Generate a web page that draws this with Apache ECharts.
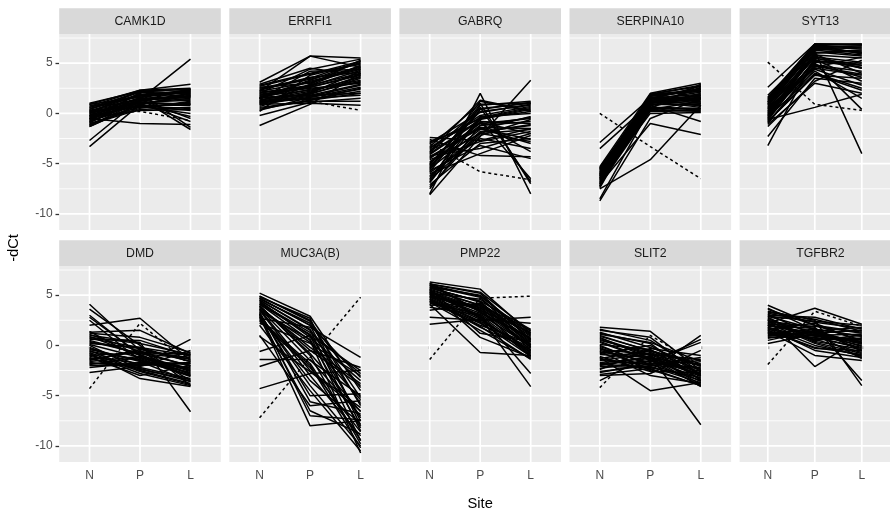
<!DOCTYPE html>
<html>
<head>
<meta charset="utf-8">
<script src="https://cdn.jsdelivr.net/npm/echarts@6/dist/echarts.min.js"></script>
<style>
html,body{margin:0;padding:0;background:#fff;}
#chart{width:890px;height:517px;}
</style>
</head>
<body>
<div id="chart"></div>
<script>
const genes = ['CAMK1D','ERRFI1','GABRQ','SERPINA10','SYT13','DMD','MUC3A(B)','PMP22','SLIT2','TGFBR2'];
const sites = ['N','P','L'];
const yTicks = [-10,-5,0,5];
const yMinor = [-7.5,-2.5,2.5,7.5];

const CAMK1D_N = [-2.7,-3.3,-0.5,0.9,1.0,0.6,0.3,0.1,-0.1,-0.3,-0.5,-0.7,-0.9,-1.1,-1.3,0.4,0.0,-0.2,-0.6,-0.8,0.2,-1.0,0.7,-0.4,-1.2,0.5,0.8,-0.9,0.1,-0.3,-0.6,0.3,0.2,-0.8,0.6,-1.1,0.9,-0.2,-0.5,0.4,-1.3,0.0];
const CAMK1D_P = [1.4,0.9,-1.0,2.3,2.2,1.8,1.5,1.2,1.0,0.8,2.0,0.6,1.3,0.4,0.9,1.9,1.1,0.7,1.6,2.1,1.4,0.5,2.3,0.3,1.2,1.7,1.0,1.5,2.2,0.8,1.3,0.6,1.8,1.1,2.1,0.7,1.6,1.3,0.9,2.2,1.0,1.5];
const CAMK1D_L = [5.4,1.8,-1.1,2.9,2.4,2.2,-1.6,2.0,1.5,0.3,-1.4,1.0,2.3,0.6,1.8,2.1,0.9,0.0,2.4,1.6,-0.5,1.2,2.5,0.4,1.9,2.2,-0.8,1.4,2.0,0.8,1.7,1.1,2.3,1.3,1.9,0.5,2.1,1.6,-0.3,2.4,0.9,1.7];

const ERRFI1_N = [-1.2,3.1,2.9,2.5,2.2,2.0,1.8,1.6,1.5,1.3,1.1,0.9,0.7,0.5,0.2,-0.2,1.9,1.4,1.0,2.6,1.7,1.2,0.8,2.3,1.5,0.6,2.8,1.3,0.3,2.1,1.6,1.0,2.4,1.2,0.9,1.8,2.7,0.4,1.5,2.0,1.1,2.2];
const ERRFI1_P = [0.9,5.7,4.5,3.5,5.7,2.8,2.5,1.8,3.2,2.2,1.5,1.0,2.0,1.3,3.8,1.1,2.6,4.2,1.7,3.0,2.3,1.4,2.9,3.6,1.9,1.2,4.0,2.4,1.6,2.7,3.3,2.1,3.4,2.0,1.6,2.6,3.9,1.3,2.8,4.4,1.8,3.1];
const ERRFI1_L = [4.0,5.5,3.8,5.2,4.6,4.8,3.0,2.0,4.5,3.6,1.8,0.8,4.2,2.5,5.0,1.5,3.9,4.4,2.8,4.7,3.3,2.2,5.3,4.1,3.5,1.2,4.9,3.1,2.6,4.3,5.1,3.7,4.6,3.2,2.4,3.8,5.2,2.0,4.0,5.4,2.9,4.4];

const GABRQ_N = [-8.0,-8.1,-2.4,-2.6,-3.0,-3.3,-3.6,-3.9,-4.2,-4.5,-4.8,-5.0,-5.3,-5.6,-5.9,-6.2,-6.5,-6.8,-7.1,-7.5,-4.0,-4.6,-5.1,-5.5,-6.0,-3.5,-4.4,-5.8,-6.6,-2.8,-3.8,-5.2,-3.4,-4.9,-6.3,-5.4,-4.1,-7.3,-2.9,-5.7,-6.9,-4.3];
const GABRQ_P = [2.0,-2.3,-2.7,-4.2,-0.5,1.0,-1.5,0.5,-3.5,-1.0,-2.0,0.2,-0.8,1.2,-2.5,-1.8,-0.3,0.8,-3.0,-1.2,-0.6,-2.8,0.6,-1.6,-4.0,-0.2,-1.4,0.4,-2.2,-1.0,1.3,-0.9,-0.4,-1.2,-2.0,0.9,-0.7,-1.9,0.1,-3.2,-0.5,-1.5];
const GABRQ_L = [-8.0,3.3,-1.5,-4.3,0.5,-7.0,-3.0,1.0,-2.0,-0.5,-2.8,0.8,-1.0,0.2,-3.5,-1.2,0.0,1.2,-2.5,-0.8,0.4,-1.8,-6.8,-0.3,-2.2,0.7,-1.5,1.1,-0.6,-3.8,0.3,-2.0,0.6,-0.4,-1.6,1.0,-6.5,-1.1,0.9,-4.5,0.2,-2.6];

const SERPINA10_N = [-8.7,-8.5,-2.9,-3.5,-7.5,-7.0,-5.3,-5.5,-5.7,-5.9,-6.1,-6.3,-6.5,-6.7,-6.9,-7.1,-7.3,-5.4,-5.8,-6.2,-6.6,-7.2,-6.0,-6.4,-5.6,-6.8,-7.4,-5.5,-6.2,-7.0,-6.0,-6.5,-5.6,-6.0,-6.4,-6.8,-7.2,-5.8,-6.6,-7.0,-6.2,-5.4];
const SERPINA10_P = [-0.5,0.5,1.5,1.0,-4.6,-1.0,2.0,1.8,1.6,1.4,1.2,1.0,0.8,0.6,0.4,0.2,1.9,1.3,0.9,1.7,0.0,1.5,1.1,0.7,1.8,0.3,1.4,1.0,1.6,0.5,1.2,1.9,1.7,0.9,1.3,0.4,1.9,1.5,0.6,1.1,1.8,1.2];
const SERPINA10_L = [1.5,0.5,2.5,1.8,0.8,-2.1,3.0,2.2,1.0,2.7,0.6,1.5,-0.8,2.0,1.2,0.3,2.8,1.7,0.9,2.4,0.1,1.9,1.3,2.6,1.1,0.4,2.1,1.6,0.7,2.9,1.4,2.3,2.2,0.8,1.8,0.2,2.7,1.4,0.5,1.0,2.4,1.6];

const SYT13_N = [-3.2,-2.3,2.6,-0.6,1.5,1.2,1.0,0.8,0.6,0.4,0.2,0.0,-0.2,-0.4,-0.6,-0.8,-1.0,-1.3,1.4,0.9,0.5,0.1,-0.3,-0.7,1.1,0.3,-0.5,-1.1,0.7,-0.1,1.3,-0.9,0.9,0.2,-0.4,1.6,-0.8,0.5,1.1,-0.2,0.0,1.8];
const SYT13_P = [5.5,3.5,6.9,0.6,6.8,6.5,6.2,5.8,5.5,5.0,4.5,6.0,5.2,4.0,6.6,3.8,4.8,3.2,6.9,6.3,5.7,4.2,6.0,5.4,6.7,4.6,5.9,3.0,6.4,5.1,6.8,4.4,6.6,5.6,4.9,6.9,3.9,6.1,6.8,5.3,4.7,6.4];
const SYT13_L = [4.5,3.0,6.8,1.9,6.5,6.0,-4.0,5.5,4.8,0.4,3.8,6.2,5.0,2.5,6.7,3.5,4.2,5.3,6.9,5.8,4.5,1.5,6.3,3.2,6.0,5.6,4.0,2.0,6.6,4.8,5.9,2.8,6.4,5.1,3.6,6.8,2.3,5.7,6.9,4.6,3.9,6.1];

const DMD_N = [4.1,3.6,3.0,2.5,2.0,1.3,1.0,0.7,0.4,0.1,-0.2,-0.5,-0.8,-1.1,-1.4,-1.7,-2.0,-2.7,1.2,0.9,0.3,-0.3,-0.9,-1.5,-1.9,0.6,-0.6,-1.2,2.8,0.0,-1.0,-1.8,1.1,-0.4,-1.3,0.5,-1.6,0.8,-0.7,1.4,-2.2,0.2];
const DMD_P = [-0.5,0.0,-1.0,-1.5,2.7,1.5,0.3,-0.2,-0.8,-1.2,-2.0,-2.5,-3.3,-1.8,-0.6,-2.2,-2.0,-2.1,0.8,-1.0,-0.3,-1.6,-2.8,-0.4,-1.2,0.5,-1.4,-3.0,-0.9,-2.4,-0.7,-1.9,-0.6,-1.5,-2.3,-0.8,-1.1,0.2,-2.6,-1.3,-1.7,-0.2];
const DMD_L = [-3.5,-4.0,-2.5,-3.0,-1.5,-0.8,-6.6,-1.0,-2.0,-2.8,0.6,-3.8,-4.1,-2.2,-1.2,-3.3,-1.8,-0.5,-0.7,-2.6,-1.6,-3.6,-4.0,-1.4,-2.4,-1.1,-3.1,-2.0,-2.9,-3.4,-0.9,-1.7,-2.1,-2.7,-3.6,-1.3,-2.3,-0.9,-3.9,-3.0,-1.8,-1.6];

const MUC3AB_N = [5.2,4.9,4.7,4.5,4.3,4.1,3.9,3.7,3.5,3.3,3.1,2.9,2.7,2.5,2.2,2.0,1.0,-0.6,-1.4,-2.1,-4.3,4.8,4.4,4.0,3.6,3.2,2.8,4.6,3.8,3.0,4.2,0.9,4.5,3.4,4.9,2.6,3.9,4.1,3.1,4.7,2.4,3.6];
const MUC3AB_P = [2.9,2.5,2.0,1.5,1.0,0.5,-0.5,-1.5,-3.0,-5.6,-7.0,-8.0,1.8,-2.0,0.2,-4.5,-6.0,1.0,-1.4,-0.5,-2.8,2.7,0.8,-1.0,-2.5,-5.0,-6.5,2.2,-0.2,-3.5,1.3,-2.6,1.6,0.6,2.4,-1.8,-0.8,1.1,-4.0,2.0,-2.2,0.3];
const MUC3AB_L = [-4.5,-6.0,-7.5,-8.5,-9.5,-10.7,-2.2,-5.0,-9.0,-6.8,-7.4,-7.5,-1.2,-10.2,-3.0,-10.5,-5.5,-2.5,-7.0,-4.0,-2.5,-8.0,-3.5,-9.8,-6.2,-4.8,-8.8,-5.2,-3.8,-7.8,-2.8,-6.5,-5.8,-8.2,-4.2,-9.4,-6.6,-7.2,-10.0,-3.2,-8.6,-5.4];

const PMP22_N = [6.3,6.1,5.9,5.7,5.5,5.3,5.1,4.9,4.7,4.5,4.3,4.1,3.8,3.5,2.8,2.1,6.0,5.6,5.2,4.8,4.4,5.8,5.4,5.0,4.6,4.0,6.2,5.5,4.9,5.3,5.7,4.2,5.8,5.1,4.6,6.0,5.4,4.4,5.6,4.8,5.2,6.1];
const PMP22_P = [5.6,5.2,4.8,4.4,4.0,3.6,3.2,2.8,2.4,2.0,1.5,-0.7,3.0,4.2,2.5,2.6,3.4,1.2,4.6,3.8,2.2,5.0,2.9,3.5,1.8,4.1,3.3,2.7,3.9,0.8,4.4,3.1,4.3,3.0,2.3,4.9,3.7,1.9,4.0,2.6,3.5,5.3];
const PMP22_L = [1.2,0.5,0.0,-0.5,1.5,-1.0,0.8,-4.1,-0.3,0.2,-1.3,-1.0,-2.8,0.9,2.8,2.2,-0.8,0.4,1.0,-0.2,-0.6,0.6,-1.1,1.3,-0.4,0.1,0.7,-0.9,0.3,-1.2,1.6,-0.1,0.4,-0.7,-1.1,1.1,0.0,-1.4,0.6,-0.5,-0.2,1.4];

const SLIT2_N = [1.8,1.5,1.2,0.9,0.6,0.3,0.0,-0.3,-0.6,-0.9,-1.2,-1.5,-1.8,-2.1,-2.4,-2.7,-3.0,-3.5,1.6,1.0,0.4,-0.2,-0.8,-1.4,-2.0,-2.6,0.7,-0.5,-1.1,0.1,-1.7,1.3,0.5,-0.7,-1.9,1.1,-2.3,-0.1,-1.3,0.8,-2.9,-0.4];
const SLIT2_P = [1.4,0.8,0.2,-0.5,-1.0,-1.5,-2.0,-2.5,-3.0,-1.2,-4.5,-0.8,-1.6,-2.2,-0.3,-1.8,-2.8,-1.0,0.5,-0.6,-1.4,-2.4,0.0,-1.9,-1.1,-2.0,-0.9,-1.7,-2.6,-0.4,-1.3,-0.2,-0.7,-1.1,-2.1,0.3,-1.5,-1.9,-0.5,-1.3,-2.3,-0.9];
const SLIT2_L = [-2.5,-3.0,-3.5,-2.0,-7.9,-4.0,-1.5,1.0,-3.8,-4.1,-3.7,-2.8,0.3,-3.2,-1.0,-2.2,-0.5,-3.9,-2.6,-1.8,-3.3,-4.0,-2.9,-1.2,-3.6,-2.3,-3.0,0.6,-2.7,-3.4,-1.9,-2.1,-2.4,-3.1,-3.7,-1.6,-2.8,-3.5,-2.0,-2.6,-4.0,-1.4];

const TGFBR2_N = [4.0,3.7,3.4,3.1,2.8,2.6,2.4,2.2,2.0,1.8,1.6,1.4,1.2,1.0,0.7,0.2,3.0,2.5,2.1,1.7,1.3,0.9,2.9,2.3,1.9,1.5,1.1,3.3,2.7,0.5,1.6,2.0,2.5,1.8,3.6,1.2,2.2,0.8,2.9,1.5,3.2,2.0];
const TGFBR2_P = [2.0,1.5,2.5,1.0,0.5,-2.1,1.8,3.7,1.2,0.0,2.2,-1.0,1.6,0.8,1.4,1.1,2.8,0.3,1.9,-0.5,0.6,1.3,2.4,0.9,1.7,-0.2,1.0,2.6,0.4,1.5,0.7,1.2,1.3,0.6,2.0,1.1,0.2,0.8,1.6,-0.3,2.3,1.0];
const TGFBR2_L = [0.5,-0.5,-4.0,0.0,1.0,0.8,-3.5,2.1,1.5,-1.0,0.3,-1.5,0.9,-0.3,1.8,0.2,1.6,-0.8,1.2,-1.2,0.6,-0.1,2.0,0.4,-0.6,-0.9,1.1,1.4,-0.4,0.1,0.7,-1.3,0.2,-0.7,1.3,0.5,-1.1,-0.2,0.9,-0.5,1.7,0.3];

// the one subject drawn with a dotted line, per gene in the order of `genes`
const dottedN = [-0.2, 1.5, -3.0, 0.0, 5.1, -4.3, -7.2, -1.4, -4.2, -1.9];
const dottedP = [0.2, 1.2, -5.8, -3.3, 0.9, 2.2, -1.2, 4.7, 1.0, 3.4];
const dottedL = [-0.7, 0.3, -6.6, -6.5, 0.3, -2.0, 4.8, 4.9, -2.0, 1.9];

const geneData = [
  [CAMK1D_N, CAMK1D_P, CAMK1D_L],
  [ERRFI1_N, ERRFI1_P, ERRFI1_L],
  [GABRQ_N, GABRQ_P, GABRQ_L],
  [SERPINA10_N, SERPINA10_P, SERPINA10_L],
  [SYT13_N, SYT13_P, SYT13_L],
  [DMD_N, DMD_P, DMD_L],
  [MUC3AB_N, MUC3AB_P, MUC3AB_L],
  [PMP22_N, PMP22_P, PMP22_L],
  [SLIT2_N, SLIT2_P, SLIT2_L],
  [TGFBR2_N, TGFBR2_P, TGFBR2_L]
];

// layout
const L0 = 59.2, STEP = 170.1, W = 161.6, H = 196;
const rowTop = [34, 266];
const STRIP_H = 25.7;
const YMIN = -11.6, YMAX = 7.9, XMIN = 0.4, XMAX = 3.6;
const FONT = '"Liberation Sans", Arial, Helvetica, sans-serif';

const grids = [], xAxes = [], yAxes = [], series = [], graphics = [];

genes.forEach((g, i) => {
  const row = Math.floor(i / 5), col = i % 5;
  const left = L0 + col * STEP, top = rowTop[row];
  grids.push({ left: left, top: top, width: W, height: H, show: true,
    backgroundColor: '#EBEBEB', borderWidth: 0, containLabel: false });
  xAxes.push({ type: 'value', gridIndex: i, min: XMIN, max: XMAX,
    axisLine: { show: false }, splitLine: { show: false },
    axisTick: { show: row === 1, customValues: [1,2,3], length: 3.7, lineStyle: { color: '#333333', width: 1.3 } },
    axisLabel: { show: row === 1, customValues: [1,2,3], formatter: v => sites[Math.round(v) - 1] || '',
      color: '#4D4D4D', fontSize: 12, fontFamily: FONT, margin: 7.5 } });
  yAxes.push({ type: 'value', gridIndex: i, min: YMIN, max: YMAX,
    axisLine: { show: false }, splitLine: { show: false },
    axisTick: { show: col === 0, customValues: yTicks, length: 3.7, lineStyle: { color: '#333333', width: 1.3 } },
    axisLabel: { show: col === 0, customValues: yTicks, color: '#4D4D4D', fontSize: 12, fontFamily: FONT, margin: 6.6 } });

  // grid lines (drawn through the axes)
  yMinor.forEach(v => series.push({ type: 'line', xAxisIndex: i, yAxisIndex: i, silent: true, symbol: 'none', z: 1,
    data: [[XMIN, v], [XMAX, v]], lineStyle: { color: '#FFFFFF', width: 0.85 } }));
  yTicks.forEach(v => series.push({ type: 'line', xAxisIndex: i, yAxisIndex: i, silent: true, symbol: 'none', z: 1,
    data: [[XMIN, v], [XMAX, v]], lineStyle: { color: '#FFFFFF', width: 1.7 } }));
  [1,2,3].forEach(v => series.push({ type: 'line', xAxisIndex: i, yAxisIndex: i, silent: true, symbol: 'none', z: 1,
    data: [[v, YMIN], [v, YMAX]], lineStyle: { color: '#FFFFFF', width: 1.7 } }));

  const [Nv, Pv, Lv] = geneData[i];
  for (let s = 0; s < Nv.length; s++) {
    series.push({ type: 'line', xAxisIndex: i, yAxisIndex: i, silent: true, symbol: 'none', z: 3,
      data: [[1, Nv[s]], [2, Pv[s]], [3, Lv[s]]], lineStyle: { color: '#000000', width: 1.5 } });
  }
  series.push({ type: 'line', xAxisIndex: i, yAxisIndex: i, silent: true, symbol: 'none', z: 3,
    data: [[1, dottedN[i]], [2, dottedP[i]], [3, dottedL[i]]],
    lineStyle: { color: '#000000', width: 1.5, type: [3, 3] } });

  // strip
  graphics.push({ type: 'rect', silent: true, z: 10,
    shape: { x: left, y: top - STRIP_H, width: W, height: STRIP_H }, style: { fill: '#D9D9D9' } });
  graphics.push({ type: 'text', silent: true, z: 11, x: left + W / 2, y: top - STRIP_H / 2,
    style: { text: g, fill: '#1A1A1A', font: '12.3px ' + FONT, textAlign: 'center', textVerticalAlign: 'middle' } });
});

graphics.push({ type: 'text', silent: true, x: L0 + (4 * STEP + W) / 2, y: 504,
  style: { text: 'Site', fill: '#000000', font: '14.7px ' + FONT, textAlign: 'center', textVerticalAlign: 'middle' } });
graphics.push({ type: 'text', silent: true, x: 14, y: (rowTop[0] + rowTop[1] + H) / 2, rotation: Math.PI / 2,
  style: { text: '-dCt', fill: '#000000', font: '14.7px ' + FONT, textAlign: 'center', textVerticalAlign: 'middle' } });

const chart = echarts.init(document.getElementById('chart'), null, { renderer: 'canvas' });
chart.setOption({
  animation: false,
  backgroundColor: '#FFFFFF',
  grid: grids, xAxis: xAxes, yAxis: yAxes, series: series,
  graphic: { elements: graphics }
});
</script>
</body>
</html>
